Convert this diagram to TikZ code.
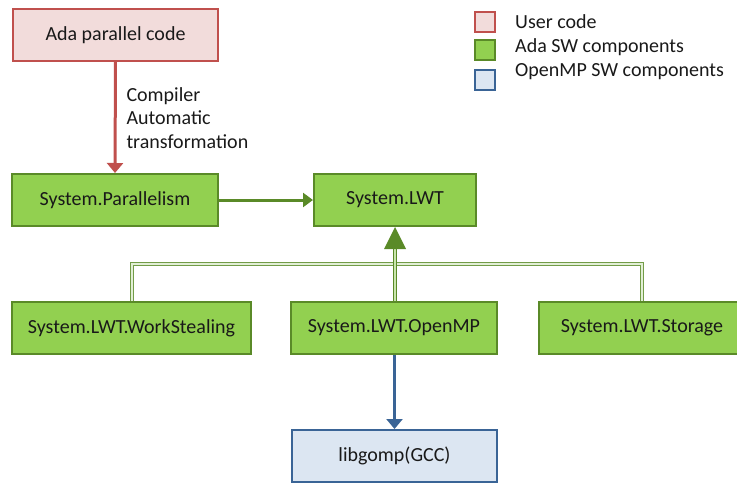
\documentclass[tikz,border=0pt]{standalone}
\usepackage{fontspec}
\setmainfont{Carlito}
\usetikzlibrary{arrows.meta}
\definecolor{redfill}{HTML}{F2DCDB}
\definecolor{redline}{HTML}{C0504D}
\definecolor{greenfill}{HTML}{92D050}
\definecolor{greenline}{HTML}{5A8A28}
\definecolor{bluefill}{HTML}{DCE6F2}
\definecolor{blueline}{HTML}{3A6496}
\definecolor{palegreen}{HTML}{E2EFD6}
\tikzset{
  every node/.style={font=\fontsize{20}{23.5}\selectfont, text=black!90},
  box/.style={rectangle, draw, line width=2pt, minimum height=52pt, inner sep=0pt},
  userbox/.style={box, draw=redline, fill=redfill},
  adabox/.style={box, draw=greenline, fill=greenfill},
  ompbox/.style={box, draw=blueline, fill=bluefill},
  dline/.style={draw=greenline!85, line width=1pt, double=palegreen, double distance=2.5pt},
  legsq/.style={rectangle, draw, line width=2pt, minimum width=20pt, minimum height=20pt, inner sep=0pt},
}
\begin{document}
\begin{tikzpicture}[x=1pt, y=-1pt]
\useasboundingbox (0,0) rectangle (737,483);
% boxes
\node[userbox, minimum width=205pt] (ada) at (115.5,35) {Ada parallel code};
\node[adabox, minimum width=206pt] (par) at (115,200) {System.Parallelism};
\node[adabox, minimum width=162pt] (lwt) at (395,200) {System.LWT};
\node[adabox, minimum width=239pt] (ws) at (131.5,328) {System.LWT.WorkStealing};
\node[adabox, minimum width=206pt] (omp) at (394,328) {System.LWT.OpenMP};
\node[adabox, minimum width=206pt] (sto) at (642,328) {System.LWT.Storage};
\node[ompbox, minimum width=205pt] (gomp) at (394.5,456) {libgomp(GCC)};
% red arrow
\draw[redline, line width=3pt, -{Triangle[width=16pt,length=10pt]}] (ada.south) -- (par.north);
\node[anchor=west, align=left] (lbl) at (123,118) {Compiler\\Automatic\\transformation};
% green arrow
\draw[greenline, line width=3pt, -{Triangle[width=14pt,length=10pt]}] (par.east) -- (lwt.west);
% double connectors
\coordinate (hl) at (132,264);
\coordinate (hr) at (642,264);
\coordinate (tip) at (395,249);
\draw[dline] (ws.north -| hl) -- (hl) -- (hr) -- (sto.north -| hr);
\draw[draw=greenline, line width=1.2pt, double=palegreen!70!greenfill, double distance=2.5pt] (omp.north -| tip) -- (tip);
\fill[greenline] (lwt.south -| tip) -- ++(-11,22) -- ++(22,0) -- cycle;
% blue arrow
\draw[blueline, line width=3pt, -{Triangle[width=16pt,length=10pt]}] (omp.south -| gomp.north) -- (gomp.north);
% legend
\node[legsq, draw=redline, fill=redfill] (l1) at (484.5,21.5) {};
\node[legsq, draw=greenline, fill=greenfill] (l2) at (484.5,49.5) {};
\node[legsq, draw=blueline, fill=bluefill] (l3) at (484.5,79.5) {};
\node[anchor=west, inner sep=0pt] (t1) at (515,22) {User code};
\node[anchor=west, inner sep=0pt] (t2) at (515,47) {Ada SW components};
\node[anchor=west, inner sep=0pt] (t3) at (515,72) {OpenMP SW components};
\end{tikzpicture}
\end{document}
